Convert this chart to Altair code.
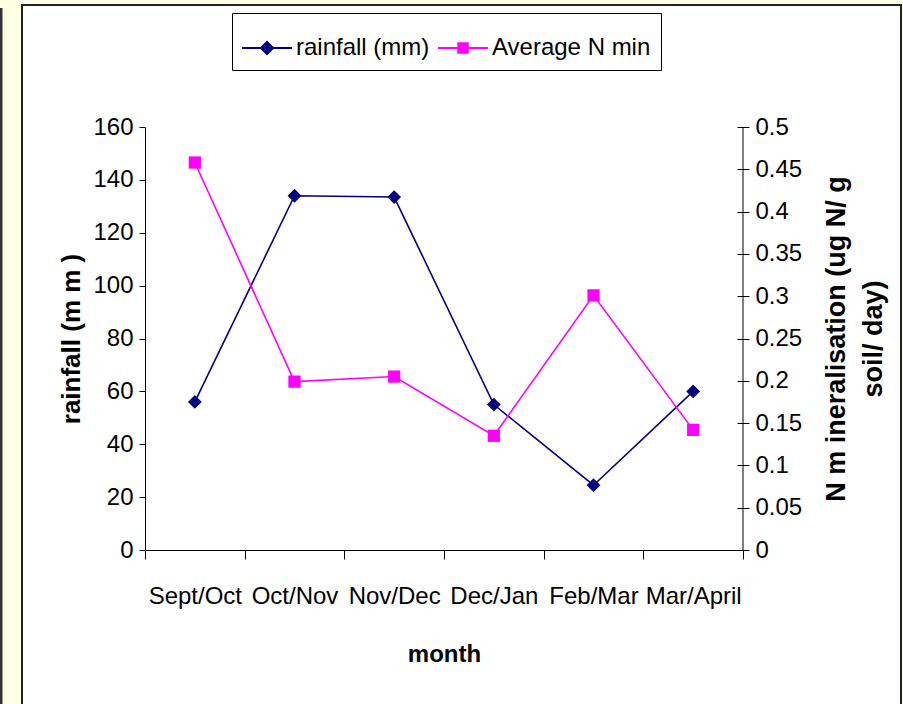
import altair as alt
import pandas as pd

# Monthly rainfall and average N mineralisation
months = ["Sept/Oct", "Oct/Nov", "Nov/Dec", "Dec/Jan", "Feb/Mar", "Mar/April"]
rainfall = [56, 134, 133.5, 55, 24.5, 60]
n_min = [0.458, 0.199, 0.205, 0.135, 0.301, 0.142]

rain_ticks = [0, 20, 40, 60, 80, 100, 120, 140, 160]
n_ticks = [0, 0.05, 0.1, 0.15, 0.2, 0.25, 0.3, 0.35, 0.4, 0.45, 0.5]

series = ["rainfall (mm)", "Average N min"]
series_colors = ["#000080", "#FF00FF"]
# legend symbols: a short line with the marker in its middle
series_symbols = [
    "M-1,-0.04H1V0.04H-1Z M0,-0.3L0.3,0L0,0.3L-0.3,0Z",
    "M-1,-0.04H1V0.04H-1Z M-0.23,-0.23H0.23V0.23H-0.23Z",
]

df = pd.DataFrame({"month": months, "rainfall": rainfall, "nmin": n_min})
legend_df = pd.DataFrame({"series": series})

W, H = 598, 423
FONT = "Liberation Sans"

x_enc = alt.X(
    "month:N",
    sort=months,
    scale=alt.Scale(type="band", paddingInner=0, paddingOuter=0),
    axis=alt.Axis(
        title="month", tickBand="extent", labelAngle=0, labelFont=FONT,
        labelFontSize=24, labelColor="black", labelPadding=25, tickSize=9,
        tickColor="black", domainColor="black", titleFont=FONT,
        titleFontSize=24, titleFontWeight="bold", titleColor="black",
        titlePadding=34, grid=False, zindex=1,
    ),
)

# white panel with border behind the chart
frame = alt.Chart(alt.Data(values=[{}])).mark_rect(
    fill="white", stroke="#222222", strokeWidth=2
).encode(
    x=alt.value(-123), x2=alt.value(756), y=alt.value(-122), y2=alt.value(700)
)
edge = alt.Chart(alt.Data(values=[{}])).mark_rule(
    color="#333333", strokeWidth=3
).encode(x=alt.value(-144), y=alt.value(-119), y2=alt.value(700))

rain_y = alt.Y(
    "rainfall:Q",
    scale=alt.Scale(domain=[0, 160], nice=False),
    axis=alt.Axis(
        title="rainfall (m m )", values=rain_ticks, labelFont=FONT,
        labelFontSize=24, labelColor="black", labelPadding=6, tickSize=6,
        tickColor="black", domainColor="black", titleFont=FONT,
        titleFontSize=26, titleFontWeight="bold", titleColor="black",
        titlePadding=8, grid=False, zindex=1,
    ),
)

rain_line = alt.Chart(df).mark_line(color="#000080", strokeWidth=1.6).encode(
    x=x_enc, y=rain_y
)
rain_pts = alt.Chart(df).mark_point(
    shape="diamond", filled=True, color="#000080", size=190, opacity=1
).encode(x=x_enc, y=rain_y)

# legend-only layer; its own points sit underneath the white panel
legend_layer = alt.Chart(legend_df).mark_point(filled=True, opacity=1).encode(
    color=alt.Color(
        "series:N",
        scale=alt.Scale(domain=series, range=series_colors),
        legend=alt.Legend(
            title=None, orient="none", legendX=87, legendY=-114,
            direction="horizontal", strokeColor="black", fillColor="white",
            padding=10, labelFont=FONT, labelFontSize=24, labelColor="black",
            symbolSize=2500, symbolOpacity=1, symbolStrokeWidth=0,
            columnPadding=8, labelOffset=4, zindex=1,
        ),
    ),
    shape=alt.Shape(
        "series:N", scale=alt.Scale(domain=series, range=series_symbols)
    ),
)

rain_layer = alt.layer(edge, legend_layer, frame, rain_line, rain_pts)

n_y = alt.Y(
    "nmin:Q",
    scale=alt.Scale(domain=[0, 0.5], nice=False),
    axis=alt.Axis(
        title=["N m ineralisation (ug N/ g", "soil/ day)"], orient="right",
        values=n_ticks, format="~g", labelFont=FONT, labelFontSize=24,
        labelColor="black", labelPadding=6, tickSize=12, offset=-6,
        domain=False, tickColor="black", titleFont=FONT, titleFontSize=27,
        titleFontWeight="bold", titleColor="black", titleAngle=270,
        titleLineHeight=37, titlePadding=12, grid=False, zindex=1,
    ),
)

n_line = alt.Chart(df).mark_line(color="#FF00FF", strokeWidth=1.6).encode(
    x=x_enc, y=n_y
)
n_pts = alt.Chart(df).mark_point(
    shape="square", filled=True, color="#FF00FF", size=150, opacity=1
).encode(x=x_enc, y=n_y)
right_edge = alt.Chart(alt.Data(values=[{}])).mark_rule(
    color="black", strokeWidth=1
).encode(x=alt.value(W), y=alt.value(0), y2=alt.value(H))

n_layer = alt.layer(right_edge, n_line, n_pts)

chart = (
    alt.layer(rain_layer, n_layer)
    .resolve_scale(y="independent")
    .properties(
        width=W, height=H,
        autosize=alt.AutoSizeParams(type="none"),
        padding={"left": 145, "top": 127, "right": 160, "bottom": 154},
        background="#FFFFE6",
    )
    .configure_view(stroke="#808080", strokeWidth=1.5)
)

chart.save("out.html", embed_options={"renderer": "svg", "actions": False})
